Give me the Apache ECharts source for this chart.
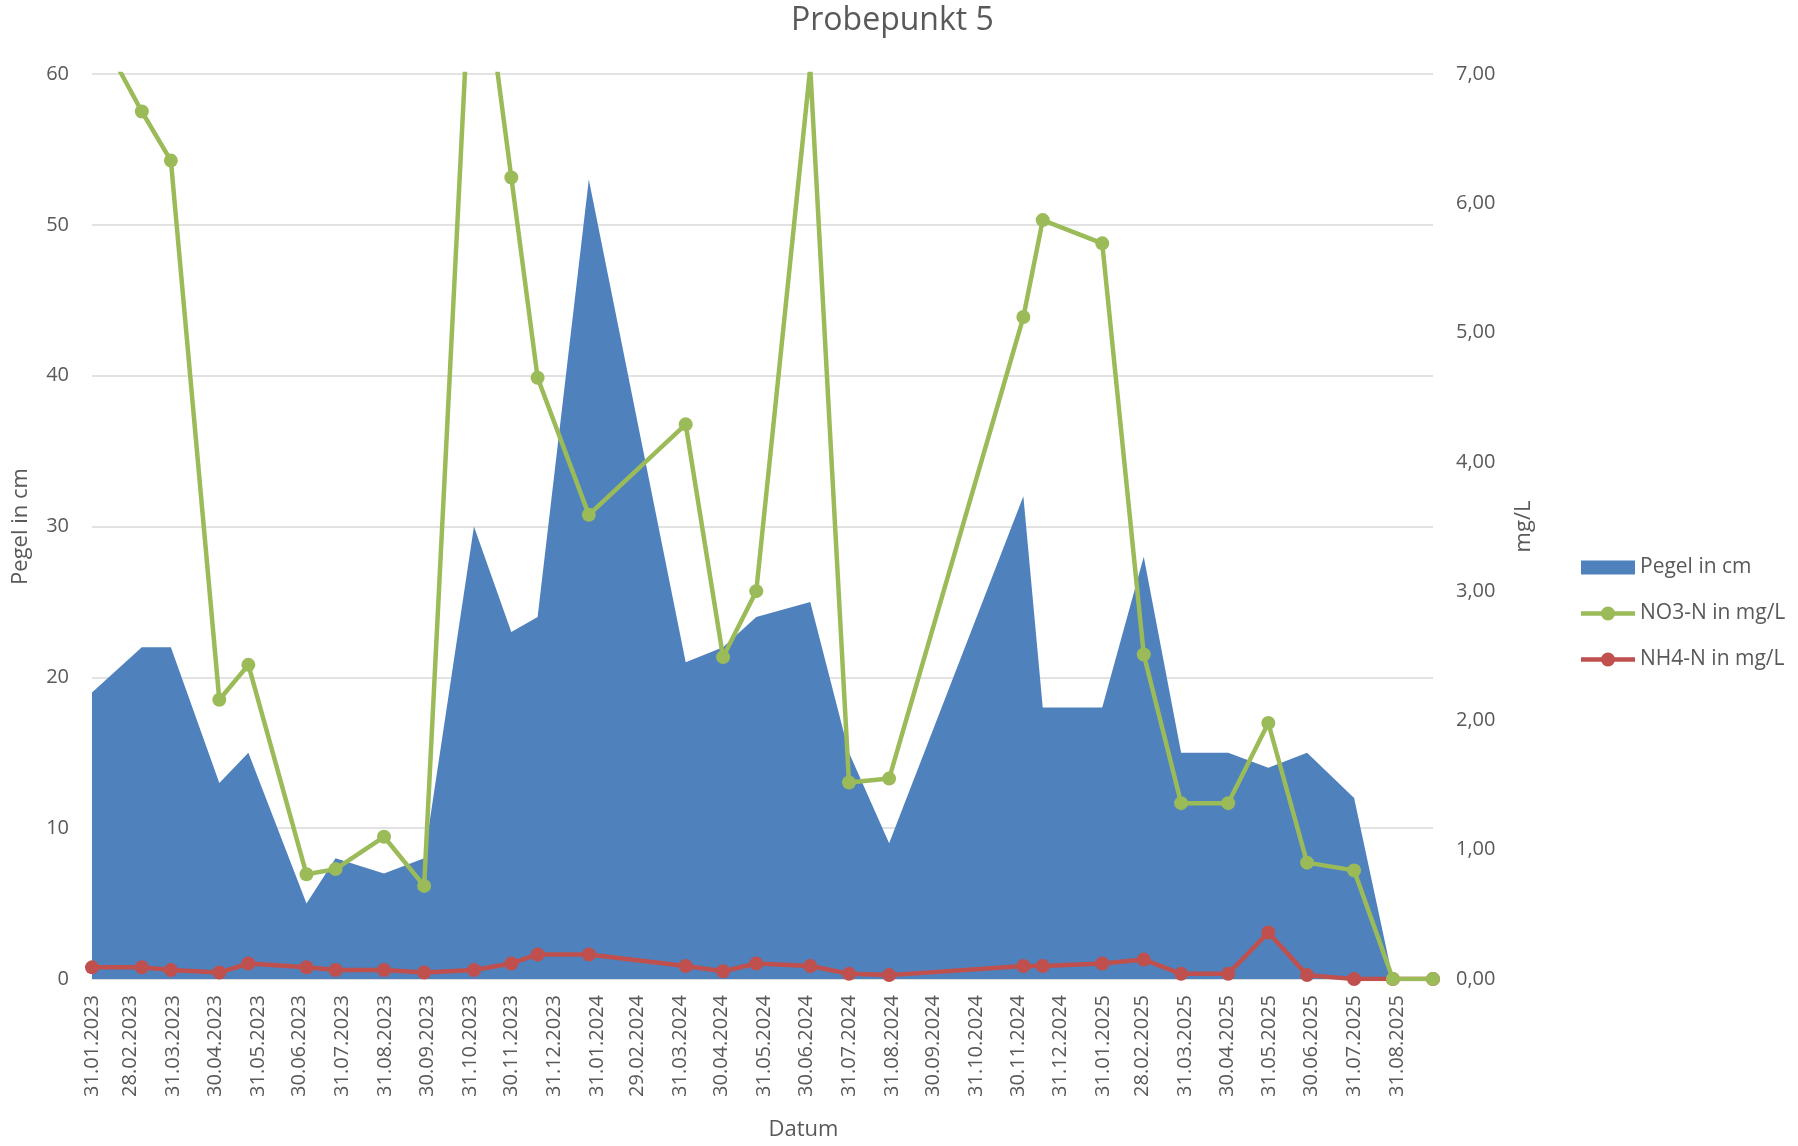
<!DOCTYPE html>
<html><head><meta charset="utf-8">
<script src="https://cdn.jsdelivr.net/npm/echarts@6/dist/echarts.min.js"></script>
<style>html,body{margin:0;padding:0;background:#fff}#c{width:1798px;height:1146px}</style>
</head><body><div id="c"></div>
<script>
// Sample dates (dd.mm.yyyy)
const sampleDates = ['31.01.2023','08.03.2023','29.03.2023','03.05.2023','24.05.2023','05.07.2023','26.07.2023','30.08.2023','28.09.2023','03.11.2023','30.11.2023','19.12.2023','25.01.2024','04.04.2024','01.05.2024','25.05.2024','03.07.2024','31.07.2024','29.08.2024','04.12.2024','18.12.2024','30.01.2025','01.03.2025','28.03.2025','01.05.2025','30.05.2025','27.06.2025','31.07.2025','28.08.2025','26.09.2025'];
// Pegel in cm (left axis)
const pegelCm = [19,22,22,13,15,5,8,7,8,30,23,24,53,21,22,24,25,15,9,32,18,18,28,15,15,14,15,12,0,0];
// NO3-N in mg/L (right axis)
const no3N = [7.42,6.71,6.33,2.16,2.43,0.81,0.85,1.10,0.72,8.40,6.20,4.65,3.59,4.29,2.49,3.00,7.05,1.52,1.55,5.12,5.87,5.69,2.51,1.36,1.36,1.98,0.90,0.84,0.00,0.00];
// NH4-N in mg/L (right axis)
const nh4N = [0.09,0.09,0.07,0.05,0.12,0.09,0.07,0.07,0.05,0.07,0.12,0.19,0.19,0.10,0.06,0.12,0.10,0.04,0.03,0.10,0.10,0.12,0.15,0.04,0.04,0.36,0.03,0.00,0.00,0.00];
// X tick labels (month ends)
const tickLabels = ['31.01.2023','28.02.2023','31.03.2023','30.04.2023','31.05.2023','30.06.2023','31.07.2023','31.08.2023','30.09.2023','31.10.2023','30.11.2023','31.12.2023','31.01.2024','29.02.2024','31.03.2024','30.04.2024','31.05.2024','30.06.2024','31.07.2024','31.08.2024','30.09.2024','31.10.2024','30.11.2024','31.12.2024','31.01.2025','28.02.2025','31.03.2025','30.04.2025','31.05.2025','30.06.2025','31.07.2025','31.08.2025'];

function ts(s){const [d,m,y]=s.split('.').map(Number);return Date.UTC(y,m-1,d);}
function fmt(v){const d=new Date(v);const p=n=>String(n).padStart(2,'0');return p(d.getUTCDate())+'.'+p(d.getUTCMonth()+1)+'.'+d.getUTCFullYear();}
const pair = arr => sampleDates.map((d,i)=>[ts(d), arr[i]]);

const FONT = "'Open Sans', sans-serif";
const GREY = '#595959';
const LINE_ICON = 'path://M0,4.75L54,4.75L54,9.25L0,9.25Z M20,7A7,7,0,1,1,34,7A7,7,0,1,1,20,7Z';
const chart = echarts.init(document.getElementById('c'), null, {renderer:'canvas'});
chart.setOption({
  animation:false,
  backgroundColor:'#fff',
  title:{text:'Probepunkt 5', left:786, top:0, textStyle:{fontFamily:FONT, fontSize:32, fontWeight:'normal', color:GREY}},
  grid:{left:92, right:365, top:74, bottom:166},
  legend:{
    orient:'vertical', left:1576, top:552, itemWidth:54, itemHeight:14, itemGap:25,
    textStyle:{fontFamily:FONT, fontSize:21, color:GREY, lineHeight:20},
    data:[{name:'Pegel in cm', icon:'rect'},{name:'NO3-N in mg/L', icon:LINE_ICON},{name:'NH4-N in mg/L', icon:LINE_ICON}]
  },
  xAxis:{
    type:'value', min:ts(sampleDates[0]), max:ts(sampleDates[sampleDates.length-1]),
    name:'Datum', nameLocation:'middle', nameGap:140,
    nameTextStyle:{fontFamily:FONT, fontSize:22, color:GREY, padding:[0,0,0,82]},
    axisLine:{lineStyle:{color:'#d9d9d9', width:1.5}},
    axisTick:{show:false},
    splitLine:{show:false},
    axisLabel:{customValues:tickLabels.map(ts), formatter:fmt, rotate:90, margin:16, hideOverlap:false,
      fontFamily:FONT, fontSize:20, color:GREY}
  },
  yAxis:[
    {type:'value', min:0, max:60, interval:10, name:'Pegel in cm', nameLocation:'middle', nameGap:60,
     nameTextStyle:{fontFamily:FONT, fontSize:22, color:GREY},
     axisLine:{show:false}, axisTick:{show:false},
     splitLine:{lineStyle:{color:'#d9d9d9', width:1.5}},
     axisLabel:{margin:23, fontFamily:FONT, fontSize:20, color:GREY}},
    {type:'value', min:0, max:7, interval:1, name:'mg/L', nameLocation:'middle', nameGap:80, nameRotate:90,
     nameTextStyle:{fontFamily:FONT, fontSize:22, color:GREY},
     axisLine:{show:false}, axisTick:{show:false}, splitLine:{show:false},
     axisLabel:{margin:23, fontFamily:FONT, fontSize:20, color:GREY,
       formatter:v=>v.toFixed(2).replace('.',',')}}
  ],
  series:[
    {name:'Pegel in cm', type:'line', yAxisIndex:0, data:pair(pegelCm), symbol:'none',
     lineStyle:{width:0, color:'#4f81bd'}, itemStyle:{color:'#4f81bd'},
     areaStyle:{color:'#4f81bd', opacity:1}, z:1},
    {name:'NH4-N in mg/L', type:'line', yAxisIndex:1, data:pair(nh4N), symbol:'circle', symbolSize:14,
     lineStyle:{width:4.5, color:'#c0504d'}, itemStyle:{color:'#c0504d'}, z:3},
    {name:'NO3-N in mg/L', type:'line', yAxisIndex:1, data:pair(no3N), symbol:'circle', symbolSize:14,
     lineStyle:{width:4.5, color:'#9bbb59'}, itemStyle:{color:'#9bbb59'}, z:4, clip:true}
  ]
});
</script></body></html>
